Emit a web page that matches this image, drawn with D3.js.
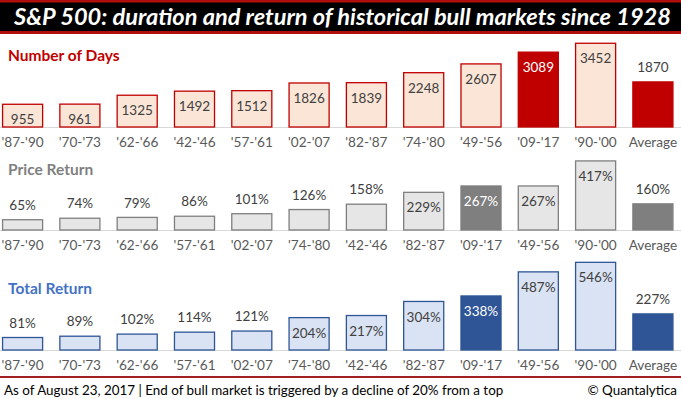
<!DOCTYPE html>
<html>
<head>
<meta charset="utf-8">
<script src="https://cdn.jsdelivr.net/npm/d3@7"></script>
<style>
  html, body { margin: 0; padding: 0; background: #ffffff; }
  svg { display: block; font-family: 'Lato', 'Open Sans', sans-serif; }
</style>
</head>
<body>
<div id="chart"></div>
<script>
// bull market periods, sorted per panel as in the source picture
const daysCats = ["'87-'90", "'70-'73", "'62-'66", "'42-'46", "'57-'61", "'02-'07", "'82-'87", "'74-'80", "'49-'56", "'09-'17", "'90-'00", "Average"];
const daysValues = [955, 961, 1325, 1492, 1512, 1826, 1839, 2248, 2607, 3089, 3452, 1870];

const priceCats = ["'87-'90", "'70-'73", "'62-'66", "'57-'61", "'02-'07", "'74-'80", "'42-'46", "'82-'87", "'09-'17", "'49-'56", "'90-'00", "Average"];
const priceValues = [65, 74, 79, 86, 101, 126, 158, 229, 267, 267, 417, 160];

const totalCats = ["'87-'90", "'70-'73", "'62-'66", "'57-'61", "'02-'07", "'74-'80", "'42-'46", "'82-'87", "'09-'17", "'49-'56", "'90-'00", "Average"];
const totalValues = [81, 89, 102, 114, 121, 204, 217, 304, 338, 487, 546, 227];

const highlighted = ["'09-'17", "Average"];

(function() {
    const width = 681, height = 399;

    let svg = d3.select('#chart').append('svg')
        .attr('width', width)
        .attr('height', height);

    // title band
    svg.append('rect').attr('x', 0).attr('y', 0).attr('width', width).attr('height', 34).attr('fill', '#b00d0d');
    svg.append('rect').attr('x', 0).attr('y', 2.5).attr('width', width).attr('height', 28.5).attr('fill', '#000000');
    svg.append('text')
        .attr('x', 14)
        .attr('y', 24.5)
        .attr('fill', '#ffffff')
        .attr('font-size', 22)
        .attr('font-weight', 'bold')
        .attr('font-style', 'italic')
        .attr('textLength', 657)
        .attr('lengthAdjust', 'spacingAndGlyphs')
        .text('S&P 500: duration and return of historical bull markets since 1928');

    let panels = [
        {title: 'Number of Days', titleColor: '#c00000', titleY: 56, base: 127, top: 41.5, max: 3500,
         cats: daysCats, values: daysValues, fmt: (v) => String(v),
         light: '#fbe5d6', dark: '#c00000', insideMin: 0},
        {title: 'Price Return', titleColor: '#7f7f7f', titleY: 170, base: 230, top: 154.8, max: 450,
         cats: priceCats, values: priceValues, fmt: (v) => v + '%',
         light: '#e7e6e6', dark: '#7f7f7f', insideMin: 200},
        {title: 'Total Return', titleColor: '#4472c4', titleY: 288.5, base: 350, top: 253, max: 600,
         cats: totalCats, values: totalValues, fmt: (v) => v + '%',
         light: '#dae3f3', dark: '#2f5597', insideMin: 200}
    ];

    panels.forEach(function(p) {
        let x = d3.scaleBand()
            .domain(p.cats)
            .range([-4, 679.5])
            .paddingInner(0.28)
            .paddingOuter(0.104);

        let y = d3.scaleLinear()
            .domain([0, p.max])
            .range([p.base, p.top]);

        let data = p.cats.map((c, i) => ({cat: c, value: p.values[i], hi: highlighted.includes(c)}));

        svg.append('text')
            .attr('x', 8)
            .attr('y', p.titleY)
            .attr('dy', '0.35em')
            .attr('fill', p.titleColor)
            .attr('font-size', 15.5)
            .attr('font-weight', 'bold')
            .text(p.title);

        let axis = svg.append('g')
            .attr('transform', 'translate(0,' + p.base + ')')
            .call(d3.axisBottom(x).tickSize(0).tickPadding(10));
        axis.select('.domain').attr('stroke', '#d9d9d9').attr('stroke-width', 1)
            .attr('d', 'M0,0.5H' + width);
        axis.selectAll('text')
            .attr('fill', '#595959')
            .attr('font-size', 13.6)
            .attr('font-family', "'Lato', 'Open Sans', sans-serif");

        let g = svg.append('g');

        g.selectAll('rect')
            .data(data)
            .enter().append('rect')
            .attr('x', (d) => x(d.cat) + 0.6)
            .attr('y', (d) => y(d.value) + 0.6)
            .attr('width', x.bandwidth() - 1.2)
            .attr('height', (d) => y(0) - y(d.value) - 0.6)
            .attr('fill', (d) => d.hi ? p.dark : p.light)
            .attr('stroke', p.dark)
            .attr('stroke-width', 1.3);

        g.selectAll('text')
            .data(data)
            .enter().append('text')
            .attr('x', (d) => x(d.cat) + x.bandwidth() / 2)
            .attr('y', function(d) {
                let inside = d.cat !== 'Average' && d.value >= p.insideMin;
                return inside ? y(d.value) + 16 : y(d.value) - 14;
            })
            .attr('dy', '0.35em')
            .attr('text-anchor', 'middle')
            .attr('font-size', 13.5)
            .attr('fill', (d) => (d.hi && d.cat !== 'Average') ? '#ffffff' : '#404040')
            .text((d) => p.fmt(d.value));
    });

    // footer
    svg.append('rect').attr('x', 0).attr('y', 376).attr('width', width).attr('height', 2).attr('fill', '#a31d24');
    svg.append('text')
        .attr('x', 4)
        .attr('y', 390)
        .attr('dy', '0.35em')
        .attr('font-size', 13.4)
        .attr('fill', '#000000')
        .text('As of August 23, 2017 | End of bull market is triggered by a decline of 20% from a top');
    svg.append('text')
        .attr('x', 677)
        .attr('y', 390)
        .attr('dy', '0.35em')
        .attr('text-anchor', 'end')
        .attr('font-size', 13.4)
        .attr('fill', '#000000')
        .text('\u00a9 Quantalytica');
}());
</script>
</body>
</html>
